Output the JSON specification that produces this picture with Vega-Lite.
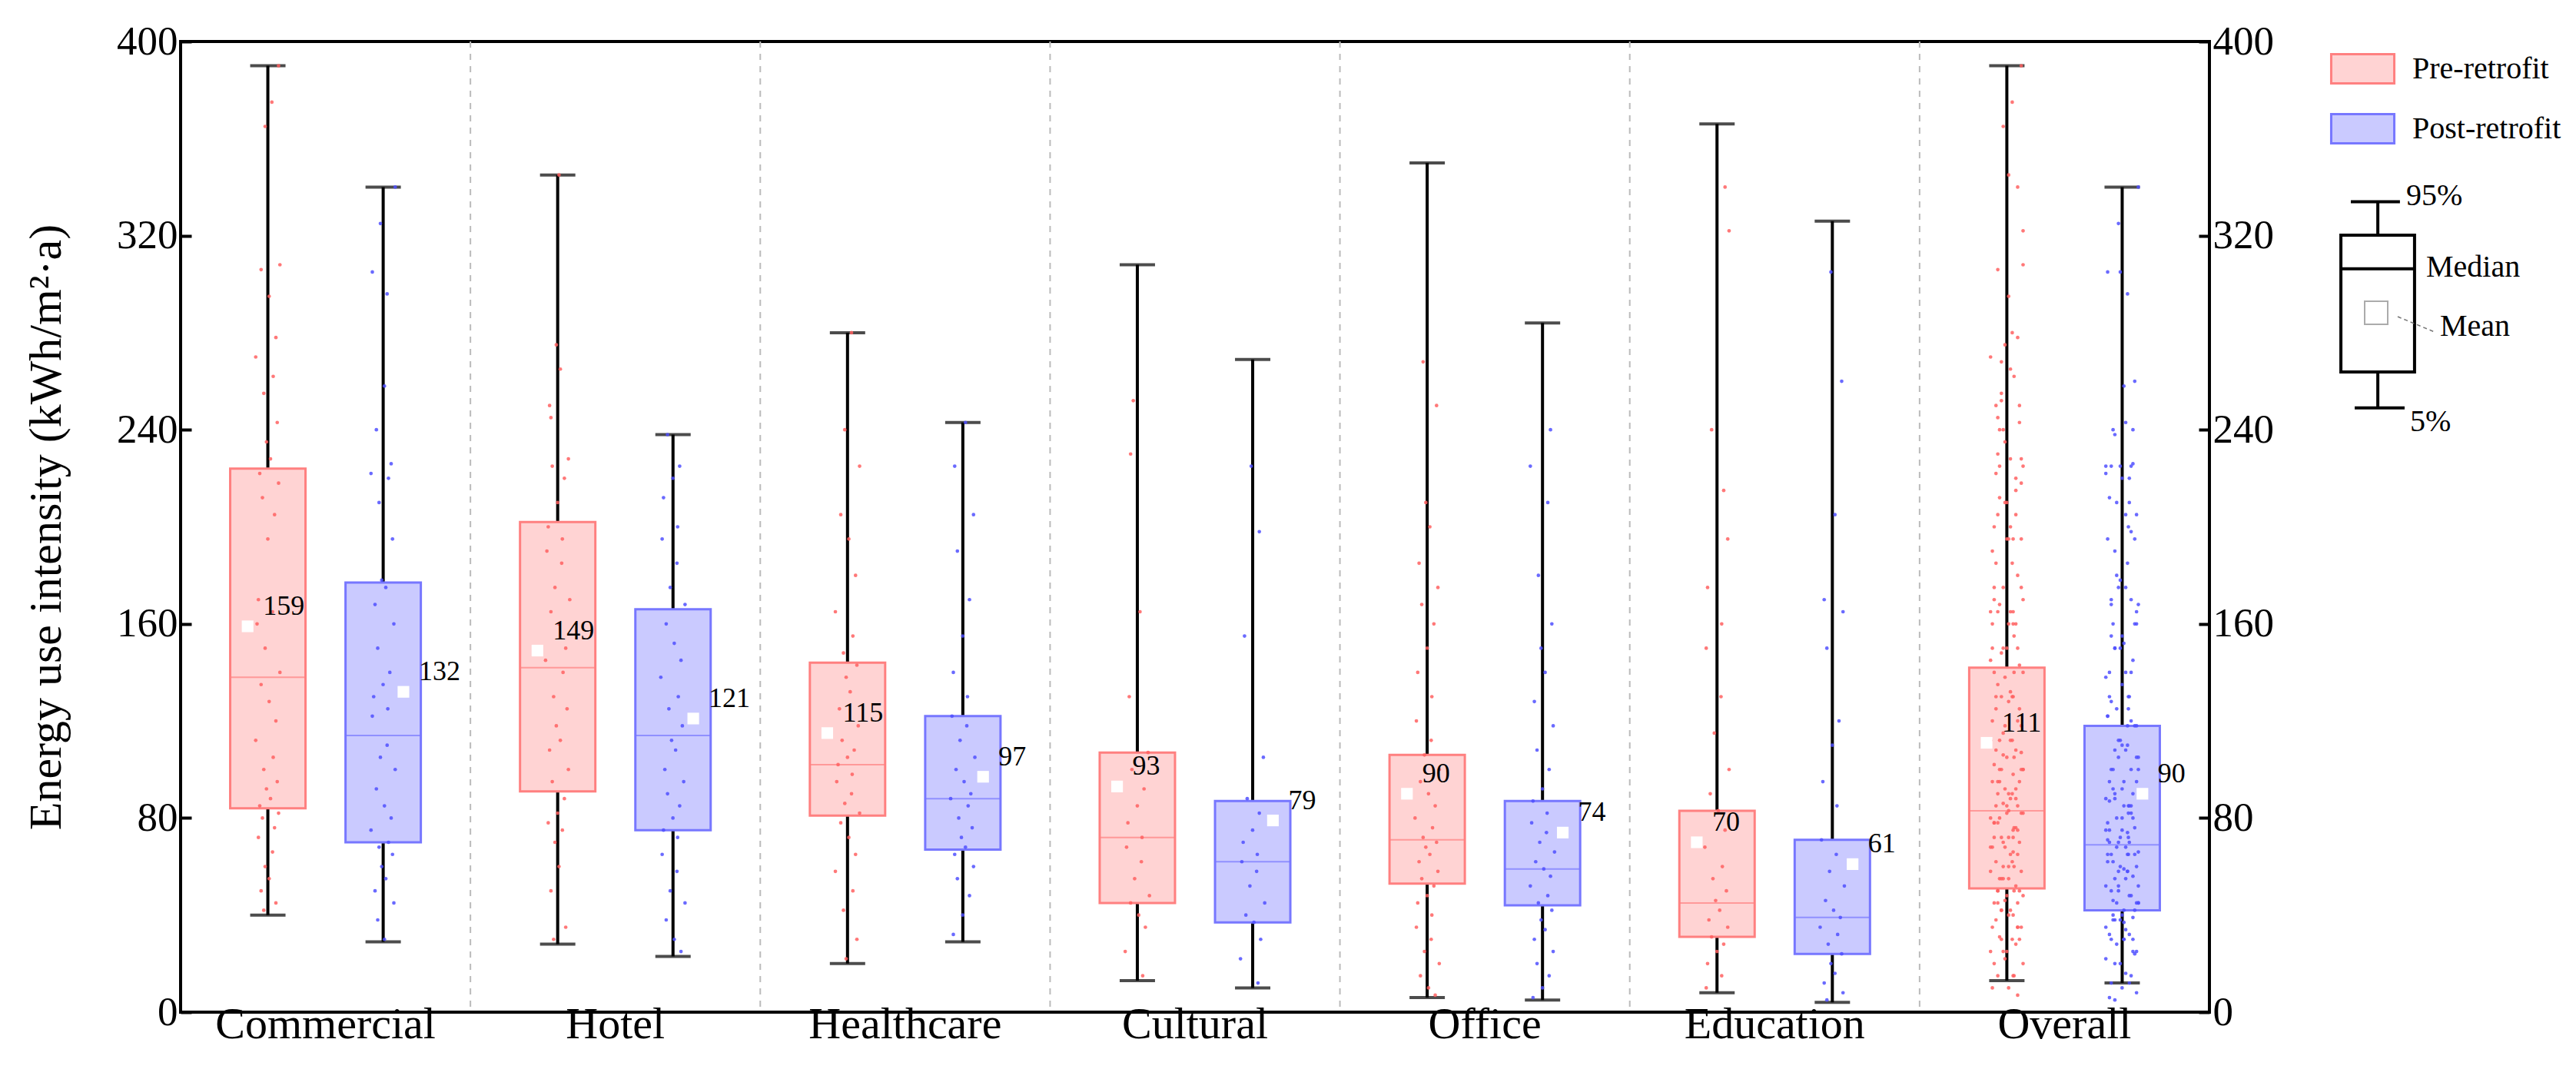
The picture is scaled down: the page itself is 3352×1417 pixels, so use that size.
{
"$schema":"https://vega.github.io/schema/vega-lite/v6.json",
"width":2640,"height":1263,"autosize":{"type":"none"},
"padding":{"left":235,"top":54,"right":477,"bottom":100},
"background":"white",
"config":{"font":"Liberation Serif","view":{"stroke":"black","strokeWidth":4}},
"datasets":{
"box":[
{"c":"Commercial","g":"Pre-retrofit","lo":40,"q1":84,"med":138,"q3":224,"hi":390,"mean":159},
{"c":"Commercial","g":"Post-retrofit","lo":29,"q1":70,"med":114,"q3":177,"hi":340,"mean":132},
{"c":"Hotel","g":"Pre-retrofit","lo":28,"q1":91,"med":142,"q3":202,"hi":345,"mean":149},
{"c":"Hotel","g":"Post-retrofit","lo":23,"q1":75,"med":114,"q3":166,"hi":238,"mean":121},
{"c":"Healthcare","g":"Pre-retrofit","lo":20,"q1":81,"med":102,"q3":144,"hi":280,"mean":115},
{"c":"Healthcare","g":"Post-retrofit","lo":29,"q1":67,"med":88,"q3":122,"hi":243,"mean":97},
{"c":"Cultural","g":"Pre-retrofit","lo":13,"q1":45,"med":72,"q3":107,"hi":308,"mean":93},
{"c":"Cultural","g":"Post-retrofit","lo":10,"q1":37,"med":62,"q3":87,"hi":269,"mean":79},
{"c":"Office","g":"Pre-retrofit","lo":6,"q1":53,"med":71,"q3":106,"hi":350,"mean":90},
{"c":"Office","g":"Post-retrofit","lo":5,"q1":44,"med":59,"q3":87,"hi":284,"mean":74},
{"c":"Education","g":"Pre-retrofit","lo":8,"q1":31,"med":45,"q3":83,"hi":366,"mean":70},
{"c":"Education","g":"Post-retrofit","lo":4,"q1":24,"med":39,"q3":71,"hi":326,"mean":61},
{"c":"Overall","g":"Pre-retrofit","lo":13,"q1":51,"med":83,"q3":142,"hi":390,"mean":111},
{"c":"Overall","g":"Post-retrofit","lo":12,"q1":42,"med":69,"q3":118,"hi":340,"mean":90}],
"sep":[{"c":"Hotel"},{"c":"Healthcare"},{"c":"Cultural"},{"c":"Office"},{"c":"Education"},{"c":"Overall"}],
"pts":[
{"c":"Commercial","g":"Pre-retrofit","v":390,"j":0.8},{"c":"Commercial","g":"Pre-retrofit","v":375,"j":0.3},{"c":"Commercial","g":"Pre-retrofit","v":365,"j":-0.2},{"c":"Commercial","g":"Pre-retrofit","v":308,"j":0.9},{"c":"Commercial","g":"Pre-retrofit","v":306,"j":-0.5},{"c":"Commercial","g":"Pre-retrofit","v":295,"j":0.1},{"c":"Commercial","g":"Pre-retrofit","v":278,"j":0.6},{"c":"Commercial","g":"Pre-retrofit","v":270,"j":-0.9},{"c":"Commercial","g":"Pre-retrofit","v":262,"j":0.4},{"c":"Commercial","g":"Pre-retrofit","v":255,"j":-0.3},{"c":"Commercial","g":"Pre-retrofit","v":243,"j":0.7},{"c":"Commercial","g":"Pre-retrofit","v":235,"j":-0.1},{"c":"Commercial","g":"Pre-retrofit","v":228,"j":0.2},{"c":"Commercial","g":"Pre-retrofit","v":222,"j":-0.6},{"c":"Commercial","g":"Pre-retrofit","v":218,"j":0.8},{"c":"Commercial","g":"Pre-retrofit","v":212,"j":-0.4},{"c":"Commercial","g":"Pre-retrofit","v":205,"j":0.5},{"c":"Commercial","g":"Pre-retrofit","v":195,"j":0},{"c":"Commercial","g":"Pre-retrofit","v":170,"j":-0.7},{"c":"Commercial","g":"Pre-retrofit","v":165,"j":0.35},{"c":"Commercial","g":"Pre-retrofit","v":160,"j":-0.8},{"c":"Commercial","g":"Pre-retrofit","v":150,"j":-0.2},{"c":"Commercial","g":"Pre-retrofit","v":140,"j":0.9},{"c":"Commercial","g":"Pre-retrofit","v":135,"j":-0.5},{"c":"Commercial","g":"Pre-retrofit","v":128,"j":0.1},{"c":"Commercial","g":"Pre-retrofit","v":120,"j":0.6},{"c":"Commercial","g":"Pre-retrofit","v":112,"j":-0.9},{"c":"Commercial","g":"Pre-retrofit","v":105,"j":0.4},{"c":"Commercial","g":"Pre-retrofit","v":100,"j":-0.3},{"c":"Commercial","g":"Pre-retrofit","v":95,"j":0.7},{"c":"Commercial","g":"Pre-retrofit","v":92,"j":-0.1},{"c":"Commercial","g":"Pre-retrofit","v":88,"j":0.2},{"c":"Commercial","g":"Pre-retrofit","v":85,"j":-0.6},{"c":"Commercial","g":"Pre-retrofit","v":82,"j":0.8},{"c":"Commercial","g":"Pre-retrofit","v":80,"j":-0.4},{"c":"Commercial","g":"Pre-retrofit","v":76,"j":0.5},{"c":"Commercial","g":"Pre-retrofit","v":72,"j":-0.7},{"c":"Commercial","g":"Pre-retrofit","v":66,"j":0.35},{"c":"Commercial","g":"Pre-retrofit","v":60,"j":-0.2},{"c":"Commercial","g":"Pre-retrofit","v":55,"j":0.1},{"c":"Commercial","g":"Pre-retrofit","v":50,"j":-0.5},{"c":"Commercial","g":"Pre-retrofit","v":45,"j":0.6},{"c":"Commercial","g":"Pre-retrofit","v":42,"j":-0.3},
{"c":"Commercial","g":"Post-retrofit","v":340,"j":0.9},{"c":"Commercial","g":"Post-retrofit","v":325,"j":-0.2},{"c":"Commercial","g":"Post-retrofit","v":305,"j":-0.8},{"c":"Commercial","g":"Post-retrofit","v":296,"j":0.3},{"c":"Commercial","g":"Post-retrofit","v":258,"j":0.1},{"c":"Commercial","g":"Post-retrofit","v":240,"j":-0.5},{"c":"Commercial","g":"Post-retrofit","v":226,"j":0.6},{"c":"Commercial","g":"Post-retrofit","v":222,"j":-0.9},{"c":"Commercial","g":"Post-retrofit","v":220,"j":0.4},{"c":"Commercial","g":"Post-retrofit","v":210,"j":-0.3},{"c":"Commercial","g":"Post-retrofit","v":195,"j":0.7},{"c":"Commercial","g":"Post-retrofit","v":178,"j":-0.1},{"c":"Commercial","g":"Post-retrofit","v":175,"j":0.2},{"c":"Commercial","g":"Post-retrofit","v":168,"j":-0.6},{"c":"Commercial","g":"Post-retrofit","v":160,"j":0.8},{"c":"Commercial","g":"Post-retrofit","v":150,"j":-0.4},{"c":"Commercial","g":"Post-retrofit","v":140,"j":0.5},{"c":"Commercial","g":"Post-retrofit","v":135,"j":0},{"c":"Commercial","g":"Post-retrofit","v":130,"j":-0.7},{"c":"Commercial","g":"Post-retrofit","v":125,"j":0.35},{"c":"Commercial","g":"Post-retrofit","v":122,"j":-0.8},{"c":"Commercial","g":"Post-retrofit","v":110,"j":0.3},{"c":"Commercial","g":"Post-retrofit","v":105,"j":-0.2},{"c":"Commercial","g":"Post-retrofit","v":100,"j":0.9},{"c":"Commercial","g":"Post-retrofit","v":92,"j":-0.5},{"c":"Commercial","g":"Post-retrofit","v":85,"j":0.1},{"c":"Commercial","g":"Post-retrofit","v":80,"j":0.6},{"c":"Commercial","g":"Post-retrofit","v":75,"j":-0.9},{"c":"Commercial","g":"Post-retrofit","v":70,"j":0.4},{"c":"Commercial","g":"Post-retrofit","v":68,"j":-0.3},{"c":"Commercial","g":"Post-retrofit","v":65,"j":0.7},{"c":"Commercial","g":"Post-retrofit","v":60,"j":-0.1},{"c":"Commercial","g":"Post-retrofit","v":55,"j":0.2},{"c":"Commercial","g":"Post-retrofit","v":50,"j":-0.6},{"c":"Commercial","g":"Post-retrofit","v":45,"j":0.8},{"c":"Commercial","g":"Post-retrofit","v":38,"j":-0.4},{"c":"Commercial","g":"Post-retrofit","v":30,"j":0.1},
{"c":"Hotel","g":"Pre-retrofit","v":345,"j":0.1},{"c":"Hotel","g":"Pre-retrofit","v":275,"j":-0.1},{"c":"Hotel","g":"Pre-retrofit","v":265,"j":0.2},{"c":"Hotel","g":"Pre-retrofit","v":250,"j":-0.6},{"c":"Hotel","g":"Pre-retrofit","v":245,"j":-0.5},{"c":"Hotel","g":"Pre-retrofit","v":228,"j":0.8},{"c":"Hotel","g":"Pre-retrofit","v":225,"j":-0.4},{"c":"Hotel","g":"Pre-retrofit","v":220,"j":0.5},{"c":"Hotel","g":"Pre-retrofit","v":210,"j":0},{"c":"Hotel","g":"Pre-retrofit","v":200,"j":-0.7},{"c":"Hotel","g":"Pre-retrofit","v":195,"j":0.35},{"c":"Hotel","g":"Pre-retrofit","v":190,"j":-0.8},{"c":"Hotel","g":"Pre-retrofit","v":185,"j":0.3},{"c":"Hotel","g":"Pre-retrofit","v":175,"j":-0.2},{"c":"Hotel","g":"Pre-retrofit","v":170,"j":0.9},{"c":"Hotel","g":"Pre-retrofit","v":165,"j":-0.5},{"c":"Hotel","g":"Pre-retrofit","v":160,"j":0.1},{"c":"Hotel","g":"Pre-retrofit","v":150,"j":0.6},{"c":"Hotel","g":"Pre-retrofit","v":145,"j":-0.9},{"c":"Hotel","g":"Pre-retrofit","v":140,"j":0.4},{"c":"Hotel","g":"Pre-retrofit","v":130,"j":-0.3},{"c":"Hotel","g":"Pre-retrofit","v":125,"j":0.7},{"c":"Hotel","g":"Pre-retrofit","v":118,"j":-0.1},{"c":"Hotel","g":"Pre-retrofit","v":112,"j":0.2},{"c":"Hotel","g":"Pre-retrofit","v":108,"j":-0.6},{"c":"Hotel","g":"Pre-retrofit","v":100,"j":0.8},{"c":"Hotel","g":"Pre-retrofit","v":95,"j":-0.4},{"c":"Hotel","g":"Pre-retrofit","v":88,"j":0.5},{"c":"Hotel","g":"Pre-retrofit","v":82,"j":0},{"c":"Hotel","g":"Pre-retrofit","v":78,"j":-0.7},{"c":"Hotel","g":"Pre-retrofit","v":75,"j":0.35},{"c":"Hotel","g":"Pre-retrofit","v":70,"j":-0.2},{"c":"Hotel","g":"Pre-retrofit","v":60,"j":0.1},{"c":"Hotel","g":"Pre-retrofit","v":50,"j":-0.5},{"c":"Hotel","g":"Pre-retrofit","v":35,"j":0.6},{"c":"Hotel","g":"Pre-retrofit","v":30,"j":-0.3},
{"c":"Hotel","g":"Post-retrofit","v":238,"j":-0.4},{"c":"Hotel","g":"Post-retrofit","v":225,"j":0.5},{"c":"Hotel","g":"Post-retrofit","v":220,"j":0},{"c":"Hotel","g":"Post-retrofit","v":212,"j":-0.7},{"c":"Hotel","g":"Post-retrofit","v":200,"j":0.35},{"c":"Hotel","g":"Post-retrofit","v":195,"j":-0.8},{"c":"Hotel","g":"Post-retrofit","v":185,"j":0.3},{"c":"Hotel","g":"Post-retrofit","v":175,"j":-0.2},{"c":"Hotel","g":"Post-retrofit","v":168,"j":0.9},{"c":"Hotel","g":"Post-retrofit","v":160,"j":-0.5},{"c":"Hotel","g":"Post-retrofit","v":152,"j":0.1},{"c":"Hotel","g":"Post-retrofit","v":145,"j":0.6},{"c":"Hotel","g":"Post-retrofit","v":138,"j":-0.9},{"c":"Hotel","g":"Post-retrofit","v":130,"j":0.4},{"c":"Hotel","g":"Post-retrofit","v":125,"j":-0.3},{"c":"Hotel","g":"Post-retrofit","v":118,"j":0.7},{"c":"Hotel","g":"Post-retrofit","v":112,"j":-0.1},{"c":"Hotel","g":"Post-retrofit","v":108,"j":0.2},{"c":"Hotel","g":"Post-retrofit","v":100,"j":-0.6},{"c":"Hotel","g":"Post-retrofit","v":95,"j":0.8},{"c":"Hotel","g":"Post-retrofit","v":90,"j":-0.4},{"c":"Hotel","g":"Post-retrofit","v":85,"j":0.5},{"c":"Hotel","g":"Post-retrofit","v":80,"j":0},{"c":"Hotel","g":"Post-retrofit","v":75,"j":-0.7},{"c":"Hotel","g":"Post-retrofit","v":72,"j":0.35},{"c":"Hotel","g":"Post-retrofit","v":65,"j":-0.8},{"c":"Hotel","g":"Post-retrofit","v":58,"j":0.3},{"c":"Hotel","g":"Post-retrofit","v":50,"j":-0.2},{"c":"Hotel","g":"Post-retrofit","v":45,"j":0.9},{"c":"Hotel","g":"Post-retrofit","v":38,"j":-0.5},{"c":"Hotel","g":"Post-retrofit","v":30,"j":0.1},{"c":"Hotel","g":"Post-retrofit","v":25,"j":0.6},
{"c":"Healthcare","g":"Pre-retrofit","v":280,"j":0.3},{"c":"Healthcare","g":"Pre-retrofit","v":240,"j":-0.2},{"c":"Healthcare","g":"Pre-retrofit","v":225,"j":0.9},{"c":"Healthcare","g":"Pre-retrofit","v":205,"j":-0.5},{"c":"Healthcare","g":"Pre-retrofit","v":195,"j":0.1},{"c":"Healthcare","g":"Pre-retrofit","v":180,"j":0.6},{"c":"Healthcare","g":"Pre-retrofit","v":165,"j":-0.9},{"c":"Healthcare","g":"Pre-retrofit","v":155,"j":0.4},{"c":"Healthcare","g":"Pre-retrofit","v":148,"j":-0.3},{"c":"Healthcare","g":"Pre-retrofit","v":143,"j":0.7},{"c":"Healthcare","g":"Pre-retrofit","v":138,"j":-0.1},{"c":"Healthcare","g":"Pre-retrofit","v":132,"j":0.2},{"c":"Healthcare","g":"Pre-retrofit","v":125,"j":-0.6},{"c":"Healthcare","g":"Pre-retrofit","v":118,"j":0.8},{"c":"Healthcare","g":"Pre-retrofit","v":112,"j":-0.4},{"c":"Healthcare","g":"Pre-retrofit","v":108,"j":0.5},{"c":"Healthcare","g":"Pre-retrofit","v":105,"j":0},{"c":"Healthcare","g":"Pre-retrofit","v":102,"j":-0.7},{"c":"Healthcare","g":"Pre-retrofit","v":98,"j":0.35},{"c":"Healthcare","g":"Pre-retrofit","v":95,"j":-0.8},{"c":"Healthcare","g":"Pre-retrofit","v":90,"j":0.3},{"c":"Healthcare","g":"Pre-retrofit","v":86,"j":-0.2},{"c":"Healthcare","g":"Pre-retrofit","v":82,"j":0.9},{"c":"Healthcare","g":"Pre-retrofit","v":78,"j":-0.5},{"c":"Healthcare","g":"Pre-retrofit","v":72,"j":0.1},{"c":"Healthcare","g":"Pre-retrofit","v":65,"j":0.6},{"c":"Healthcare","g":"Pre-retrofit","v":58,"j":-0.9},{"c":"Healthcare","g":"Pre-retrofit","v":50,"j":0.4},{"c":"Healthcare","g":"Pre-retrofit","v":42,"j":-0.3},{"c":"Healthcare","g":"Pre-retrofit","v":30,"j":0.7},{"c":"Healthcare","g":"Pre-retrofit","v":22,"j":-0.1},
{"c":"Healthcare","g":"Post-retrofit","v":243,"j":0.2},{"c":"Healthcare","g":"Post-retrofit","v":225,"j":-0.6},{"c":"Healthcare","g":"Post-retrofit","v":205,"j":0.8},{"c":"Healthcare","g":"Post-retrofit","v":190,"j":-0.4},{"c":"Healthcare","g":"Post-retrofit","v":170,"j":0.5},{"c":"Healthcare","g":"Post-retrofit","v":155,"j":0},{"c":"Healthcare","g":"Post-retrofit","v":140,"j":-0.7},{"c":"Healthcare","g":"Post-retrofit","v":130,"j":0.35},{"c":"Healthcare","g":"Post-retrofit","v":122,"j":-0.8},{"c":"Healthcare","g":"Post-retrofit","v":118,"j":0.3},{"c":"Healthcare","g":"Post-retrofit","v":112,"j":-0.2},{"c":"Healthcare","g":"Post-retrofit","v":105,"j":0.9},{"c":"Healthcare","g":"Post-retrofit","v":100,"j":-0.5},{"c":"Healthcare","g":"Post-retrofit","v":95,"j":0.1},{"c":"Healthcare","g":"Post-retrofit","v":90,"j":0.6},{"c":"Healthcare","g":"Post-retrofit","v":88,"j":-0.9},{"c":"Healthcare","g":"Post-retrofit","v":85,"j":0.4},{"c":"Healthcare","g":"Post-retrofit","v":80,"j":-0.3},{"c":"Healthcare","g":"Post-retrofit","v":76,"j":0.7},{"c":"Healthcare","g":"Post-retrofit","v":72,"j":-0.1},{"c":"Healthcare","g":"Post-retrofit","v":68,"j":0.2},{"c":"Healthcare","g":"Post-retrofit","v":65,"j":-0.6},{"c":"Healthcare","g":"Post-retrofit","v":60,"j":0.8},{"c":"Healthcare","g":"Post-retrofit","v":55,"j":-0.4},{"c":"Healthcare","g":"Post-retrofit","v":48,"j":0.5},{"c":"Healthcare","g":"Post-retrofit","v":40,"j":0},{"c":"Healthcare","g":"Post-retrofit","v":32,"j":-0.7},
{"c":"Cultural","g":"Pre-retrofit","v":252,"j":-0.3},{"c":"Cultural","g":"Pre-retrofit","v":230,"j":-0.5},{"c":"Cultural","g":"Pre-retrofit","v":165,"j":0.2},{"c":"Cultural","g":"Pre-retrofit","v":130,"j":-0.6},{"c":"Cultural","g":"Pre-retrofit","v":107,"j":0.8},{"c":"Cultural","g":"Pre-retrofit","v":100,"j":-0.4},{"c":"Cultural","g":"Pre-retrofit","v":92,"j":0.5},{"c":"Cultural","g":"Pre-retrofit","v":85,"j":0},{"c":"Cultural","g":"Pre-retrofit","v":78,"j":-0.7},{"c":"Cultural","g":"Pre-retrofit","v":72,"j":0.35},{"c":"Cultural","g":"Pre-retrofit","v":68,"j":-0.8},{"c":"Cultural","g":"Pre-retrofit","v":62,"j":0.3},{"c":"Cultural","g":"Pre-retrofit","v":55,"j":-0.2},{"c":"Cultural","g":"Pre-retrofit","v":48,"j":0.9},{"c":"Cultural","g":"Pre-retrofit","v":45,"j":-0.5},{"c":"Cultural","g":"Pre-retrofit","v":40,"j":0.1},{"c":"Cultural","g":"Pre-retrofit","v":35,"j":0.6},{"c":"Cultural","g":"Pre-retrofit","v":25,"j":-0.9},{"c":"Cultural","g":"Pre-retrofit","v":15,"j":0.4},
{"c":"Cultural","g":"Post-retrofit","v":225,"j":-0.1},{"c":"Cultural","g":"Post-retrofit","v":198,"j":0.5},{"c":"Cultural","g":"Post-retrofit","v":155,"j":-0.6},{"c":"Cultural","g":"Post-retrofit","v":105,"j":0.8},{"c":"Cultural","g":"Post-retrofit","v":88,"j":-0.4},{"c":"Cultural","g":"Post-retrofit","v":82,"j":0.5},{"c":"Cultural","g":"Post-retrofit","v":75,"j":0},{"c":"Cultural","g":"Post-retrofit","v":70,"j":-0.7},{"c":"Cultural","g":"Post-retrofit","v":65,"j":0.35},{"c":"Cultural","g":"Post-retrofit","v":62,"j":-0.8},{"c":"Cultural","g":"Post-retrofit","v":58,"j":0.3},{"c":"Cultural","g":"Post-retrofit","v":52,"j":-0.2},{"c":"Cultural","g":"Post-retrofit","v":45,"j":0.9},{"c":"Cultural","g":"Post-retrofit","v":40,"j":-0.5},{"c":"Cultural","g":"Post-retrofit","v":37,"j":0.1},{"c":"Cultural","g":"Post-retrofit","v":30,"j":0.6},{"c":"Cultural","g":"Post-retrofit","v":22,"j":-0.9},{"c":"Cultural","g":"Post-retrofit","v":12,"j":0.4},
{"c":"Office","g":"Pre-retrofit","v":268,"j":-0.3},{"c":"Office","g":"Pre-retrofit","v":250,"j":0.7},{"c":"Office","g":"Pre-retrofit","v":210,"j":-0.1},{"c":"Office","g":"Pre-retrofit","v":200,"j":0.2},{"c":"Office","g":"Pre-retrofit","v":185,"j":-0.6},{"c":"Office","g":"Pre-retrofit","v":175,"j":0.8},{"c":"Office","g":"Pre-retrofit","v":168,"j":-0.4},{"c":"Office","g":"Pre-retrofit","v":160,"j":0.5},{"c":"Office","g":"Pre-retrofit","v":150,"j":0},{"c":"Office","g":"Pre-retrofit","v":140,"j":-0.7},{"c":"Office","g":"Pre-retrofit","v":130,"j":0.35},{"c":"Office","g":"Pre-retrofit","v":120,"j":-0.8},{"c":"Office","g":"Pre-retrofit","v":112,"j":0.3},{"c":"Office","g":"Pre-retrofit","v":106,"j":-0.2},{"c":"Office","g":"Pre-retrofit","v":100,"j":0.9},{"c":"Office","g":"Pre-retrofit","v":95,"j":-0.5},{"c":"Office","g":"Pre-retrofit","v":90,"j":0.1},{"c":"Office","g":"Pre-retrofit","v":85,"j":0.6},{"c":"Office","g":"Pre-retrofit","v":80,"j":-0.9},{"c":"Office","g":"Pre-retrofit","v":76,"j":0.4},{"c":"Office","g":"Pre-retrofit","v":72,"j":-0.3},{"c":"Office","g":"Pre-retrofit","v":70,"j":0.7},{"c":"Office","g":"Pre-retrofit","v":68,"j":-0.1},{"c":"Office","g":"Pre-retrofit","v":65,"j":0.2},{"c":"Office","g":"Pre-retrofit","v":62,"j":-0.6},{"c":"Office","g":"Pre-retrofit","v":58,"j":0.8},{"c":"Office","g":"Pre-retrofit","v":55,"j":-0.4},{"c":"Office","g":"Pre-retrofit","v":52,"j":0.5},{"c":"Office","g":"Pre-retrofit","v":48,"j":0},{"c":"Office","g":"Pre-retrofit","v":45,"j":-0.7},{"c":"Office","g":"Pre-retrofit","v":40,"j":0.35},{"c":"Office","g":"Pre-retrofit","v":35,"j":-0.8},{"c":"Office","g":"Pre-retrofit","v":30,"j":0.3},{"c":"Office","g":"Pre-retrofit","v":25,"j":-0.2},{"c":"Office","g":"Pre-retrofit","v":20,"j":0.9},{"c":"Office","g":"Pre-retrofit","v":15,"j":-0.5},{"c":"Office","g":"Pre-retrofit","v":10,"j":0.1},{"c":"Office","g":"Pre-retrofit","v":7,"j":0.6},
{"c":"Office","g":"Post-retrofit","v":240,"j":0.6},{"c":"Office","g":"Post-retrofit","v":225,"j":-0.9},{"c":"Office","g":"Post-retrofit","v":210,"j":0.4},{"c":"Office","g":"Post-retrofit","v":180,"j":-0.3},{"c":"Office","g":"Post-retrofit","v":160,"j":0.7},{"c":"Office","g":"Post-retrofit","v":150,"j":-0.1},{"c":"Office","g":"Post-retrofit","v":140,"j":0.2},{"c":"Office","g":"Post-retrofit","v":128,"j":-0.6},{"c":"Office","g":"Post-retrofit","v":118,"j":0.8},{"c":"Office","g":"Post-retrofit","v":108,"j":-0.4},{"c":"Office","g":"Post-retrofit","v":100,"j":0.5},{"c":"Office","g":"Post-retrofit","v":92,"j":0},{"c":"Office","g":"Post-retrofit","v":87,"j":-0.7},{"c":"Office","g":"Post-retrofit","v":82,"j":0.35},{"c":"Office","g":"Post-retrofit","v":78,"j":-0.8},{"c":"Office","g":"Post-retrofit","v":74,"j":0.3},{"c":"Office","g":"Post-retrofit","v":70,"j":-0.2},{"c":"Office","g":"Post-retrofit","v":66,"j":0.9},{"c":"Office","g":"Post-retrofit","v":62,"j":-0.5},{"c":"Office","g":"Post-retrofit","v":59,"j":0.1},{"c":"Office","g":"Post-retrofit","v":56,"j":0.6},{"c":"Office","g":"Post-retrofit","v":52,"j":-0.9},{"c":"Office","g":"Post-retrofit","v":48,"j":0.4},{"c":"Office","g":"Post-retrofit","v":45,"j":-0.3},{"c":"Office","g":"Post-retrofit","v":42,"j":0.7},{"c":"Office","g":"Post-retrofit","v":38,"j":-0.1},{"c":"Office","g":"Post-retrofit","v":34,"j":0.2},{"c":"Office","g":"Post-retrofit","v":30,"j":-0.6},{"c":"Office","g":"Post-retrofit","v":25,"j":0.8},{"c":"Office","g":"Post-retrofit","v":20,"j":-0.4},{"c":"Office","g":"Post-retrofit","v":15,"j":0.5},{"c":"Office","g":"Post-retrofit","v":10,"j":0},{"c":"Office","g":"Post-retrofit","v":6,"j":-0.7},
{"c":"Education","g":"Pre-retrofit","v":340,"j":0.6},{"c":"Education","g":"Pre-retrofit","v":322,"j":0.9},{"c":"Education","g":"Pre-retrofit","v":240,"j":-0.4},{"c":"Education","g":"Pre-retrofit","v":215,"j":0.5},{"c":"Education","g":"Pre-retrofit","v":195,"j":0.8},{"c":"Education","g":"Pre-retrofit","v":175,"j":-0.7},{"c":"Education","g":"Pre-retrofit","v":160,"j":0.35},{"c":"Education","g":"Pre-retrofit","v":150,"j":-0.8},{"c":"Education","g":"Pre-retrofit","v":130,"j":0.3},{"c":"Education","g":"Pre-retrofit","v":115,"j":-0.2},{"c":"Education","g":"Pre-retrofit","v":100,"j":0.9},{"c":"Education","g":"Pre-retrofit","v":90,"j":-0.5},{"c":"Education","g":"Pre-retrofit","v":83,"j":0.1},{"c":"Education","g":"Pre-retrofit","v":75,"j":0.6},{"c":"Education","g":"Pre-retrofit","v":68,"j":-0.9},{"c":"Education","g":"Pre-retrofit","v":60,"j":0.4},{"c":"Education","g":"Pre-retrofit","v":55,"j":-0.3},{"c":"Education","g":"Pre-retrofit","v":50,"j":0.7},{"c":"Education","g":"Pre-retrofit","v":46,"j":-0.1},{"c":"Education","g":"Pre-retrofit","v":42,"j":0.2},{"c":"Education","g":"Pre-retrofit","v":38,"j":-0.6},{"c":"Education","g":"Pre-retrofit","v":35,"j":0.8},{"c":"Education","g":"Pre-retrofit","v":31,"j":-0.4},{"c":"Education","g":"Pre-retrofit","v":28,"j":0.5},{"c":"Education","g":"Pre-retrofit","v":25,"j":0},{"c":"Education","g":"Pre-retrofit","v":20,"j":-0.7},{"c":"Education","g":"Pre-retrofit","v":15,"j":0.35},{"c":"Education","g":"Pre-retrofit","v":10,"j":-0.8},
{"c":"Education","g":"Post-retrofit","v":305,"j":-0.1},{"c":"Education","g":"Post-retrofit","v":260,"j":0.7},{"c":"Education","g":"Post-retrofit","v":205,"j":0.2},{"c":"Education","g":"Post-retrofit","v":170,"j":-0.6},{"c":"Education","g":"Post-retrofit","v":165,"j":0.8},{"c":"Education","g":"Post-retrofit","v":150,"j":-0.4},{"c":"Education","g":"Post-retrofit","v":120,"j":0.5},{"c":"Education","g":"Post-retrofit","v":110,"j":0},{"c":"Education","g":"Post-retrofit","v":95,"j":-0.7},{"c":"Education","g":"Post-retrofit","v":85,"j":0.35},{"c":"Education","g":"Post-retrofit","v":71,"j":-0.8},{"c":"Education","g":"Post-retrofit","v":65,"j":0.3},{"c":"Education","g":"Post-retrofit","v":58,"j":-0.2},{"c":"Education","g":"Post-retrofit","v":52,"j":0.9},{"c":"Education","g":"Post-retrofit","v":46,"j":-0.5},{"c":"Education","g":"Post-retrofit","v":42,"j":0.1},{"c":"Education","g":"Post-retrofit","v":39,"j":0.6},{"c":"Education","g":"Post-retrofit","v":35,"j":-0.9},{"c":"Education","g":"Post-retrofit","v":32,"j":0.4},{"c":"Education","g":"Post-retrofit","v":28,"j":-0.3},{"c":"Education","g":"Post-retrofit","v":24,"j":0.7},{"c":"Education","g":"Post-retrofit","v":20,"j":-0.1},{"c":"Education","g":"Post-retrofit","v":16,"j":0.2},{"c":"Education","g":"Post-retrofit","v":12,"j":-0.6},{"c":"Education","g":"Post-retrofit","v":8,"j":0.8},{"c":"Education","g":"Post-retrofit","v":5,"j":-0.4}],
"kbox":[{"x":1.0648,"x2":1.1011,"y":263.8,"y2":320.2}],
"krule":[{"x":1.0648,"x2":1.1011,"y":306.3,"y2":306.3},{"x":1.083,"x2":1.083,"y":320.2,"y2":334},{"x":1.083,"x2":1.083,"y":263.8,"y2":249},{"x":1.0697,"x2":1.0939,"y":334,"y2":334},{"x":1.0716,"x2":1.0962,"y":249,"y2":249}],
"ktext":[{"t":"95%","x":1.097,"y":336.3},{"t":"Median","x":1.1068,"y":306.9},{"t":"Mean","x":1.1136,"y":282.5},{"t":"5%","x":1.0989,"y":243.2}],
"kmean":[{"x":1.0822,"y":288.2}],
"kdash":[{"x":1.0928,"x2":1.111,"y":286.6,"y2":280.3}]
},
"layer":[
{"layer":[
 {"data":{"name":"sep"},"mark":{"type":"rule","color":"#bbbbbb","strokeWidth":2,"strokeDash":[8,8]},
  "encoding":{"x":{"field":"c","type":"nominal","bandPosition":0}}},
 {"data":{"name":"box"},"layer":[
  {"mark":{"type":"rule","color":"black","strokeWidth":4},"encoding":{"y":{"field":"lo","type":"quantitative"},"y2":{"field":"hi"}}},
  {"mark":{"type":"tick","color":"black","thickness":4,"size":46,"orient":"horizontal"},"encoding":{"y":{"field":"lo","type":"quantitative"}}},
  {"mark":{"type":"tick","color":"black","thickness":4,"size":46,"orient":"horizontal"},"encoding":{"y":{"field":"hi","type":"quantitative"}}},
  {"mark":{"type":"bar","strokeWidth":3},"encoding":{"y":{"field":"q1","type":"quantitative"},"y2":{"field":"q3"},
    "fill":{"field":"g","type":"nominal","scale":{"domain":["Pre-retrofit","Post-retrofit"],"range":["#FFD3D3","#CACAFF"]},
     "legend":{"title":null,"orient":"none","legendX":2819,"legendY":15,"symbolType":"M-2.16,-1H2.16V1H-2.16Z","symbolSize":1444,"symbolStrokeWidth":3,"labelFontSize":40,"labelOffset":44,"labelLimit":600,"rowPadding":27,"labelFont":"Liberation Serif","labelColor":"black"}},
    "stroke":{"field":"g","type":"nominal","scale":{"domain":["Pre-retrofit","Post-retrofit"],"range":["#FF8080","#7777FF"]},"legend":null}}},
  {"mark":{"type":"tick","thickness":2,"size":98,"orient":"horizontal"},"encoding":{"y":{"field":"med","type":"quantitative"},
    "color":{"field":"g","type":"nominal","scale":{"domain":["Pre-retrofit","Post-retrofit"],"range":["#FF8080","#7777FF"]},"legend":null}}}
 ],
 "encoding":{
  "x":{"field":"c","type":"nominal","sort":null,"scale":{"domain":["Commercial","Hotel","Healthcare","Cultural","Office","Education","Overall"],"paddingInner":0,"paddingOuter":0},
   "axis":{"title":null,"domain":false,"ticks":false,"labelFontSize":58,"labelColor":"black","labelPadding":16,"labelAngle":0,"labelLimit":1000,"labelAlign":"center"}},
  "xOffset":{"field":"g","type":"nominal","scale":{"domain":["Pre-retrofit","Post-retrofit"],"paddingInner":0.347,"paddingOuter":0.43}},
  "y":{"scale":{"domain":[0,400],"nice":false},"axis":{"title":"Energy use intensity (kWh/m²·a)","titleFontSize":60,"titleFontWeight":"normal","titleColor":"black","titlePadding":60,"values":[0,80,160,240,320,400],"labelFontSize":53,"labelColor":"black","tickSize":-14,"tickWidth":4,"tickColor":"black","labelPadding":18,"domain":false,"grid":false}}
 }},
 {"data":{"name":"pts"},"transform":[{"filter":"datum.g==='Pre-retrofit'"}],"mark":{"type":"circle","size":22,"opacity":0.85,"color":"#FF6060"},
  "encoding":{"x":{"field":"c","type":"nominal"},"xOffset":{"field":"j","type":"quantitative","scale":{"domain":[-1,1],"range":[96,131]}},"y":{"field":"v","type":"quantitative"}}},
 {"data":{"name":"pts"},"transform":[{"filter":"datum.g==='Post-retrofit'"}],"mark":{"type":"circle","size":22,"opacity":0.85,"color":"#5050FF"},
  "encoding":{"x":{"field":"c","type":"nominal"},"xOffset":{"field":"j","type":"quantitative","scale":{"domain":[-1,1],"range":[246,281]}},"y":{"field":"v","type":"quantitative"}}},
 {"data":{"name":"pts"},"transform":[{"filter":"datum.g==='Pre-retrofit'"}],"mark":{"type":"circle","size":22,"opacity":0.85,"color":"#FF6060"},
  "encoding":{"x":{"datum":"Overall","type":"nominal"},"xOffset":{"field":"j","type":"quantitative","scale":{"domain":[-1,1],"range":[90,137]}},"y":{"field":"v","type":"quantitative"}}},
 {"data":{"name":"pts"},"transform":[{"filter":"datum.g==='Post-retrofit'"}],"mark":{"type":"circle","size":22,"opacity":0.85,"color":"#5050FF"},
  "encoding":{"x":{"datum":"Overall","type":"nominal"},"xOffset":{"field":"j","type":"quantitative","scale":{"domain":[-1,1],"range":[240,287]}},"y":{"field":"v","type":"quantitative"}}},
 {"data":{"name":"box"},"layer":[
  {"mark":{"type":"square","size":230,"filled":true,"color":"white","opacity":1,"xOffset":25},"encoding":{"y":{"field":"mean","type":"quantitative"}}},
  {"mark":{"type":"text","align":"left","baseline":"middle","dx":20,"xOffset":25,"dy":-26,"fontSize":36,"color":"black"},"encoding":{"y":{"field":"mean","type":"quantitative"},"text":{"field":"mean","type":"quantitative","format":".0f"}}}
 ],
 "encoding":{"x":{"field":"c","type":"nominal"},"xOffset":{"field":"g","type":"nominal","scale":{"domain":["Pre-retrofit","Post-retrofit"],"paddingInner":0.347,"paddingOuter":0.43}}}}
],
"resolve":{"scale":{"xOffset":"independent"}}},
{"data":{"name":"box"},"mark":{"type":"tick","opacity":0},
 "encoding":{"y":{"field":"hi","type":"quantitative","scale":{"domain":[0,400],"nice":false},"axis":{"orient":"right","title":null,"values":[0,80,160,240,320,400],"labelFontSize":53,"labelColor":"black","tickSize":-14,"tickWidth":4,"tickColor":"black","labelPadding":18,"domain":false,"grid":false}}}},
{"layer":[
 {"data":{"name":"kbox"},"mark":{"type":"rect","fill":null,"fillOpacity":0,"stroke":"black","strokeWidth":4},"encoding":{"x":{"field":"x","type":"quantitative"},"x2":{"field":"x2"},"y":{"field":"y","type":"quantitative"},"y2":{"field":"y2"}}},
 {"data":{"name":"krule"},"mark":{"type":"rule","color":"black","strokeWidth":4},"encoding":{"x":{"field":"x","type":"quantitative"},"x2":{"field":"x2"},"y":{"field":"y","type":"quantitative"},"y2":{"field":"y2"}}},
 {"data":{"name":"kdash"},"mark":{"type":"rule","color":"#777777","strokeWidth":1.5,"strokeDash":[5,4]},"encoding":{"x":{"field":"x","type":"quantitative"},"x2":{"field":"x2"},"y":{"field":"y","type":"quantitative"},"y2":{"field":"y2"}}},
 {"data":{"name":"kmean"},"mark":{"type":"square","size":900,"filled":false,"color":"#888888","strokeWidth":2},"encoding":{"x":{"field":"x","type":"quantitative"},"y":{"field":"y","type":"quantitative"}}},
 {"data":{"name":"ktext"},"mark":{"type":"text","align":"left","baseline":"middle","fontSize":40,"color":"black"},"encoding":{"x":{"field":"x","type":"quantitative"},"y":{"field":"y","type":"quantitative"},"text":{"field":"t"}}}
],
"encoding":{"x":{"scale":{"domain":[0,1],"nice":false,"zero":false},"axis":null},"y":{"scale":{"domain":[0,400],"nice":false},"axis":null}}}
],
"resolve":{"scale":{"y":"independent","x":"independent"}}
}
